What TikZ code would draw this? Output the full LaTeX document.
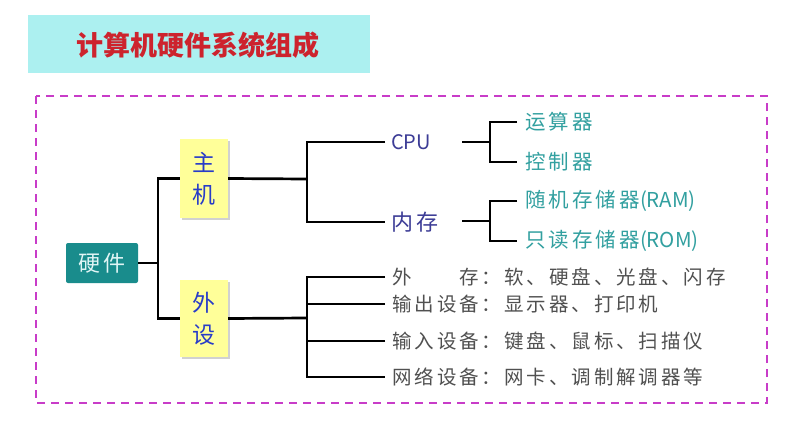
\documentclass[tikz,border=0pt]{standalone}
\usepackage{fontspec}
\setmainfont{Noto Sans CJK SC}
\newfontfamily\wide{Noto Sans CJK SC}[LetterSpace=15]
\newfontfamily\plain{Noto Sans CJK SC}
\definecolor{titlebg}{RGB}{172,240,240}
\definecolor{titlered}{RGB}{205,35,45}
\definecolor{dashcol}{RGB}{200,60,200}
\definecolor{tealbox}{RGB}{25,140,140}
\definecolor{tealtxt}{RGB}{225,245,245}
\definecolor{ybox}{RGB}{255,255,153}
\definecolor{hostblue}{RGB}{40,60,200}
\definecolor{cpublue}{RGB}{60,60,150}
\definecolor{leafteal}{RGB}{50,160,160}
\definecolor{listgray}{RGB}{80,80,80}
\begin{document}
\begin{tikzpicture}[x=1pt,y=-1pt,
  conn/.style={draw=black,line width=2.7pt},
  hwbox/.style={fill=tealbox,rounded corners=2pt,minimum width=72pt,minimum height=40pt,
    inner sep=0pt,text=tealtxt,font=\wide\fontsize{22}{22}\selectfont},
  ylbox/.style={fill=ybox,minimum width=48pt,inner sep=0pt,align=center,text=hostblue,
    font=\wide\fontsize{23}{32}\selectfont},
  midleaf/.style={anchor=west,inner xsep=6pt,inner ysep=0pt,text=cpublue},
  leaf/.style={anchor=west,inner xsep=8pt,inner ysep=0pt,text=leafteal,font=\wide\fontsize{20.5}{21}\selectfont},
  item/.style={anchor=west,inner xsep=7pt,inner ysep=0pt,text=listgray,font=\wide\fontsize{19.5}{20}\selectfont}
]
\useasboundingbox (0,0) rectangle (812,423);
\fill[white] (0,0) rectangle (812,423);
% title
\node[fill=titlebg,minimum width=342pt,minimum height=58pt,inner sep=0pt,anchor=north west] (tband) at (28,15) {};
\node[font=\bfseries\fontsize{27}{27}\selectfont,text=titlered] (title) at (198,45) {计算机硬件系统组成};
% dashed frame
\draw[dashcol,line width=2pt,dash pattern=on 8pt off 6pt] (36,96) rectangle (767,403);
% nodes
\node[hwbox] (hw) at (102,263) {硬件};
\fill[black!18] (182,141) rectangle (230,220);
\fill[black!18] (182,282) rectangle (230,359);
\node[ylbox,minimum height=79pt] (zj) at (204,178.5) {主\\机};
\node[ylbox,minimum height=77pt] (ws) at (204,318.5) {外\\设};
\node[midleaf,font=\plain\fontsize{20}{20}\selectfont] (cpu) at (385,142) {CPU};
\node[midleaf,font=\wide\fontsize{22}{22}\selectfont] (nc) at (385,222) {内存};
\node[leaf] (ys) at (517,122) {运算器};
\node[leaf] (kz) at (517,162) {控制器};
\node[leaf] (ram) at (517,201) {随机存储器{\plain(RAM)}};
\node[leaf] (rom) at (517,241) {只读存储器{\plain(ROM)}};
\node[item] (wc) at (385,277) {外　　存：软、硬盘、光盘、闪存};
\node[item] (sc) at (385,304) {输出设备：显示器、打印机};
\node[item] (sr) at (385,341) {输入设备：键盘、鼠标、扫描仪};
\node[item] (wl) at (385,377) {网络设备：网卡、调制解调器等};
% junctions
\coordinate (j1) at (158,263);
\coordinate (j2) at (307,179);
\coordinate (j3) at (307,318);
\coordinate (c1) at (462,142);
\coordinate (b1) at (490,142);
\coordinate (c2) at (462,221);
\coordinate (b2) at (490,221);
% connectors
\draw[conn] (hw.east) -- (j1);
\draw[conn] (zj.west) -| (j1) |- (ws.west);
\draw[conn] (zj.east) -- (j2);
\draw[conn] (cpu.west) -| (j2) |- (nc.west);
\draw[conn] (ws.east) -- (j3);
\draw[conn] (wc.west) -| (j3) |- (wl.west);
\draw[conn] (sc.west) -- (sc.west -| j3);
\draw[conn] (sr.west) -- (sr.west -| j3);
\draw[conn] (c1) -- (b1);
\draw[conn] (ys.west) -| (b1) |- (kz.west);
\draw[conn] (c2) -- (b2);
\draw[conn] (ram.west) -| (b2) |- (rom.west);
\end{tikzpicture}
\end{document}
